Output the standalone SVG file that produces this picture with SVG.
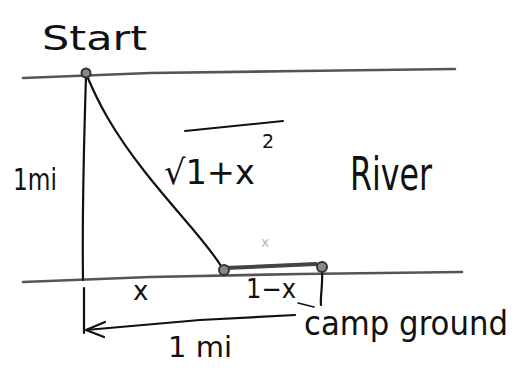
<svg xmlns="http://www.w3.org/2000/svg" width="523" height="371" viewBox="0 0 523 371">
<style>
.ink{fill:none;stroke:#111;stroke-width:2.2;stroke-linecap:round;stroke-linejoin:round}
.river{fill:none;stroke:#555;stroke-width:2.6;stroke-linecap:round}
.dot{fill:#888;stroke:#333;stroke-width:2}
.lbl{font-family:"DejaVu Sans","Liberation Sans",sans-serif;fill:#111}
</style>
<rect width="523" height="371" fill="#fff"/>
<g id="river-banks">
<path class="river" d="M23,78 L150,73 L300,71 L455,69"/>
<path class="river" d="M23,282 L150,277 L300,274 L462,272"/>
</g>
<g id="connectors">
<path class="ink" d="M86,76 C84,140 82,210 83,280"/>
<path class="ink" d="M87,76 C98,102 112,130 145,172 S205,240 221,266"/>
<path class="river" d="M225,268 L316,264" style="stroke-width:4;stroke:#444"/>
<path class="ink" d="M322,270 C323,285 320,298 321,305"/>
<path class="ink" d="M298,303 L314,307" style="stroke-width:1.6"/>
<path class="ink" d="M84,288 L84,333"/>
<path class="ink" d="M295,315 L200,320 L86,330"/>
<path class="ink" d="M105,322 L86,330 L104,337"/>
</g>
<g id="start-point"><circle class="dot" cx="86" cy="73" r="4.5"/></g>
<g id="landing-point"><circle class="dot" cx="224" cy="270" r="5"/></g>
<g id="camp-point"><circle class="dot" cx="322" cy="267" r="5"/></g>
<g id="labels">
<text class="lbl" x="163" y="50" font-size="34" textLength="105" lengthAdjust="spacingAndGlyphs" transform="translate(-121,0)">Start</text>
<text class="lbl" x="13" y="190" font-size="30" textLength="44" lengthAdjust="spacingAndGlyphs">1mi</text>
<path class="ink" d="M185,131 L283,121" style="stroke-width:2"/>
<text class="lbl" x="164" y="184" font-size="34" textLength="91" lengthAdjust="spacingAndGlyphs">√1+x</text>
<text class="lbl" x="262" y="148" font-size="19">2</text>
<text class="lbl" x="350" y="190" font-size="46" textLength="82" lengthAdjust="spacingAndGlyphs">River</text>
<text class="lbl" x="261" y="247" font-size="14" style="fill:#bbb">x</text>
<text class="lbl" x="133" y="300" font-size="26">x</text>
<text class="lbl" x="246" y="298" font-size="26" textLength="50" lengthAdjust="spacingAndGlyphs">1−x</text>
<text class="lbl" x="304" y="335" font-size="33" textLength="204" lengthAdjust="spacingAndGlyphs">camp ground</text>
<text class="lbl" x="168" y="357" font-size="28" textLength="64" lengthAdjust="spacingAndGlyphs">1 mi</text>
</g>
</svg>
